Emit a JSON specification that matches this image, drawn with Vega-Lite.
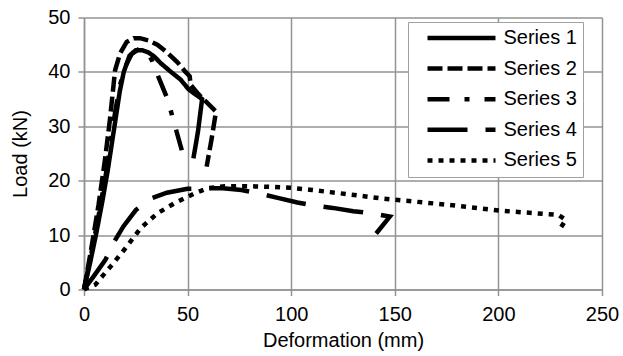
{
  "$schema": "https://vega.github.io/schema/vega-lite/v6.json",
  "width": 518,
  "height": 272,
  "autosize": {"type": "none"},
  "padding": {"left": 84, "top": 17.5, "right": 21, "bottom": 66.5},
  "background": "white",
  "config": {
    "view": {"stroke": null},
    "font": "Liberation Sans",
    "axis": {
      "grid": true,
      "gridColor": "#939393",
      "gridWidth": 1.5,
      "domainColor": "#939393",
      "domainWidth": 1.5,
      "tickColor": "#939393",
      "tickWidth": 1.5,
      "tickSize": 6,
      "labelFont": "Liberation Sans",
      "labelFontSize": 20,
      "labelColor": "black",
      "titleFont": "Liberation Sans",
      "titleFontSize": 20,
      "titleFontWeight": "normal",
      "titleColor": "black"
    }
  },
  "data": {
    "values": [
      {"series": "Series 1", "deformation": 0, "load": 0},
      {"series": "Series 1", "deformation": 3, "load": 5},
      {"series": "Series 1", "deformation": 6, "load": 10.5},
      {"series": "Series 1", "deformation": 9, "load": 16.5},
      {"series": "Series 1", "deformation": 11.5, "load": 22},
      {"series": "Series 1", "deformation": 13.5, "load": 27},
      {"series": "Series 1", "deformation": 15.5, "load": 32},
      {"series": "Series 1", "deformation": 17.3, "load": 36.5},
      {"series": "Series 1", "deformation": 19.2, "load": 40},
      {"series": "Series 1", "deformation": 22, "load": 43},
      {"series": "Series 1", "deformation": 25, "load": 44},
      {"series": "Series 1", "deformation": 28, "load": 44},
      {"series": "Series 1", "deformation": 31, "load": 43.6},
      {"series": "Series 1", "deformation": 34, "load": 42.8},
      {"series": "Series 1", "deformation": 37, "load": 41.6},
      {"series": "Series 1", "deformation": 42, "load": 40},
      {"series": "Series 1", "deformation": 46.6, "load": 38.6},
      {"series": "Series 1", "deformation": 50.5, "load": 36.8},
      {"series": "Series 1", "deformation": 54, "load": 35.8},
      {"series": "Series 1", "deformation": 57, "load": 35},
      {"series": "Series 1", "deformation": 55, "load": 29},
      {"series": "Series 1", "deformation": 52.8, "load": 24.1},
      {"series": "Series 2", "deformation": 0, "load": 0},
      {"series": "Series 2", "deformation": 3.5, "load": 7.5},
      {"series": "Series 2", "deformation": 7, "load": 15.5},
      {"series": "Series 2", "deformation": 10.1, "load": 23.8},
      {"series": "Series 2", "deformation": 12.5, "load": 31.2},
      {"series": "Series 2", "deformation": 15, "load": 40.3},
      {"series": "Series 2", "deformation": 17.4, "load": 43.4},
      {"series": "Series 2", "deformation": 20.6, "load": 45.5},
      {"series": "Series 2", "deformation": 24, "load": 46.2},
      {"series": "Series 2", "deformation": 27, "load": 46.2},
      {"series": "Series 2", "deformation": 31, "load": 45.8},
      {"series": "Series 2", "deformation": 35.4, "load": 45},
      {"series": "Series 2", "deformation": 40, "load": 43.6},
      {"series": "Series 2", "deformation": 45, "load": 41.8},
      {"series": "Series 2", "deformation": 49, "load": 40},
      {"series": "Series 2", "deformation": 51, "load": 39.2},
      {"series": "Series 2", "deformation": 51.5, "load": 37.6},
      {"series": "Series 2", "deformation": 55, "load": 36},
      {"series": "Series 2", "deformation": 59, "load": 34.5},
      {"series": "Series 2", "deformation": 63.7, "load": 32.7},
      {"series": "Series 2", "deformation": 61.5, "load": 27.5},
      {"series": "Series 2", "deformation": 59.2, "load": 22.6},
      {"series": "Series 3", "deformation": 0, "load": 0},
      {"series": "Series 3", "deformation": 3.5, "load": 6.5},
      {"series": "Series 3", "deformation": 7, "load": 13.5},
      {"series": "Series 3", "deformation": 10.5, "load": 21},
      {"series": "Series 3", "deformation": 13, "load": 27.5},
      {"series": "Series 3", "deformation": 15.2, "load": 33},
      {"series": "Series 3", "deformation": 17.3, "load": 37.5},
      {"series": "Series 3", "deformation": 20, "load": 41},
      {"series": "Series 3", "deformation": 23, "load": 43.3},
      {"series": "Series 3", "deformation": 27, "load": 44.3},
      {"series": "Series 3", "deformation": 30, "load": 43.8},
      {"series": "Series 3", "deformation": 32.7, "load": 42.2},
      {"series": "Series 3", "deformation": 36, "load": 39},
      {"series": "Series 3", "deformation": 39.9, "load": 35.4},
      {"series": "Series 3", "deformation": 42.3, "load": 32.3},
      {"series": "Series 3", "deformation": 44.7, "load": 29},
      {"series": "Series 3", "deformation": 47.2, "load": 25.6},
      {"series": "Series 4", "deformation": 0, "load": 0},
      {"series": "Series 4", "deformation": 5, "load": 2.6},
      {"series": "Series 4", "deformation": 10.4, "load": 5.5},
      {"series": "Series 4", "deformation": 14.6, "load": 8.8},
      {"series": "Series 4", "deformation": 19, "load": 11.6},
      {"series": "Series 4", "deformation": 25, "load": 14.6},
      {"series": "Series 4", "deformation": 32, "load": 16.7},
      {"series": "Series 4", "deformation": 40, "load": 17.8},
      {"series": "Series 4", "deformation": 50, "load": 18.5},
      {"series": "Series 4", "deformation": 58, "load": 18.6},
      {"series": "Series 4", "deformation": 67, "load": 18.6},
      {"series": "Series 4", "deformation": 76, "load": 18.3},
      {"series": "Series 4", "deformation": 85, "load": 17.6},
      {"series": "Series 4", "deformation": 94, "load": 16.8},
      {"series": "Series 4", "deformation": 103, "load": 16},
      {"series": "Series 4", "deformation": 111.5, "load": 15.4},
      {"series": "Series 4", "deformation": 120, "load": 15},
      {"series": "Series 4", "deformation": 130, "load": 14.4},
      {"series": "Series 4", "deformation": 139, "load": 14},
      {"series": "Series 4", "deformation": 147.6, "load": 13.4},
      {"series": "Series 4", "deformation": 141, "load": 10.3},
      {"series": "Series 5", "deformation": 0, "load": 0},
      {"series": "Series 5", "deformation": 5.5, "load": 0.9},
      {"series": "Series 5", "deformation": 9, "load": 2.5},
      {"series": "Series 5", "deformation": 13, "load": 4.3},
      {"series": "Series 5", "deformation": 19.4, "load": 7.3},
      {"series": "Series 5", "deformation": 27.4, "load": 11.3},
      {"series": "Series 5", "deformation": 35.4, "load": 14},
      {"series": "Series 5", "deformation": 43.4, "load": 15.8},
      {"series": "Series 5", "deformation": 53, "load": 17.6},
      {"series": "Series 5", "deformation": 59.5, "load": 18.6},
      {"series": "Series 5", "deformation": 68, "load": 19},
      {"series": "Series 5", "deformation": 77, "load": 19},
      {"series": "Series 5", "deformation": 88, "load": 18.9},
      {"series": "Series 5", "deformation": 99.5, "load": 18.7},
      {"series": "Series 5", "deformation": 110, "load": 18.3},
      {"series": "Series 5", "deformation": 118.8, "load": 17.9},
      {"series": "Series 5", "deformation": 132, "load": 17.3},
      {"series": "Series 5", "deformation": 144.4, "load": 16.7},
      {"series": "Series 5", "deformation": 150, "load": 16.5},
      {"series": "Series 5", "deformation": 175, "load": 15.6},
      {"series": "Series 5", "deformation": 200.5, "load": 14.5},
      {"series": "Series 5", "deformation": 215, "load": 14.1},
      {"series": "Series 5", "deformation": 229, "load": 13.7},
      {"series": "Series 5", "deformation": 232.5, "load": 12.8},
      {"series": "Series 5", "deformation": 229.3, "load": 10.9}
    ]
  },
  "mark": {"type": "line", "strokeWidth": 4.5, "color": "black", "strokeCap": "butt", "strokeJoin": "miter"},
  "encoding": {
    "x": {
      "field": "deformation",
      "type": "quantitative",
      "title": "Deformation (mm)",
      "scale": {"domain": [0, 250], "nice": false, "zero": true},
      "axis": {"values": [0, 50, 100, 150, 200, 250], "labelPadding": 9, "titlePadding": 6, "labelFlush": false}
    },
    "y": {
      "field": "load",
      "type": "quantitative",
      "title": "Load (kN)",
      "scale": {"domain": [0, 50], "nice": false},
      "axis": {"values": [0, 10, 20, 30, 40, 50], "labelPadding": 8, "titlePadding": 17, "labelFlush": false}
    },
    "strokeDash": {
      "field": "series",
      "type": "nominal",
      "scale": {
        "domain": ["Series 1", "Series 2", "Series 3", "Series 4", "Series 5"],
        "range": [[1, 0], [15, 5], [22, 15, 5, 15], [40, 18], [5, 6]]
      },
      "legend": {
        "title": null,
        "orient": "none",
        "legendX": 324,
        "legendY": 4.5,
        "direction": "vertical",
        "symbolType": "stroke",
        "symbolSize": 4624,
        "symbolStrokeWidth": 4.5,
        "symbolStrokeColor": "black",
        "clipHeight": 20,
        "symbolOffset": 11,
        "labelOffset": 5.5,
        "labelFont": "Liberation Sans",
        "labelFontSize": 20,
        "labelColor": "black",
        "labelExpr": "datum.label + '  '",
        "padding": 6,
        "rowPadding": 10.6,
        "strokeColor": "#A0A0A0",
        "fillColor": "white"
      }
    },
    "order": {"value": null}
  }
}
